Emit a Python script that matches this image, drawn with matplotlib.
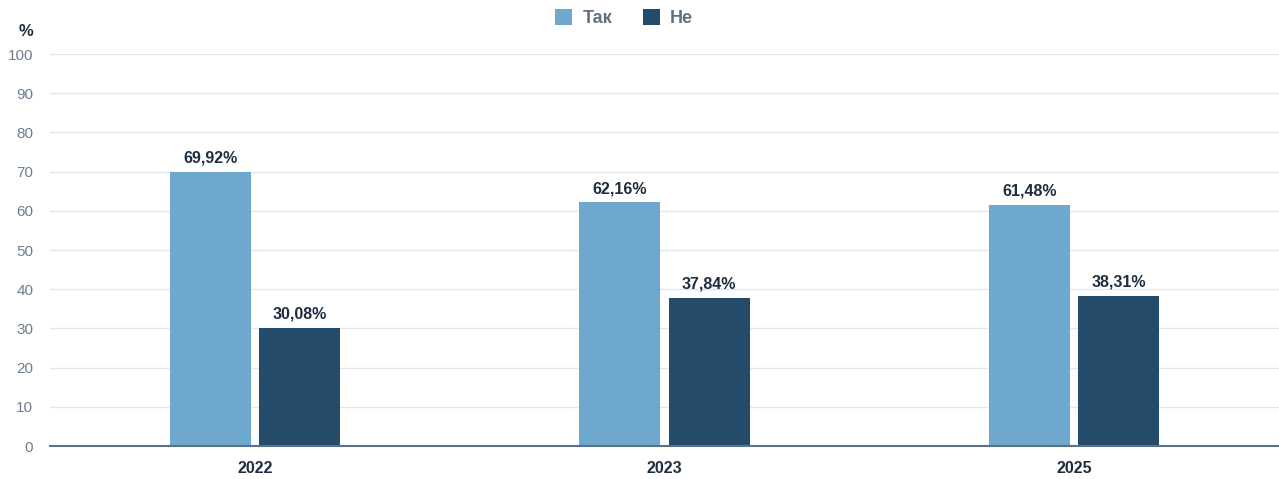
import numpy as np
import matplotlib
matplotlib.use("Agg")
import matplotlib.pyplot as plt
from matplotlib.patches import Patch

plt.rcParams['font.family'] = ['Liberation Sans', 'DejaVu Sans']

years = ['2022', '2023', '2025']
tak = [69.92, 62.16, 61.48]
ne = [30.08, 37.84, 38.31]
series_names = ['Так', 'Не']

c_tak = '#6fa8cf'
c_ne = '#244b6a'
grid_c = '#dfe6ed'
tick_c = '#6a7e91'
text_c = '#1d2e40'

fig = plt.figure(figsize=(12.79, 4.79), dpi=100)
ax = fig.add_axes([50 / 1279, 33 / 479, 1229 / 1279, 392 / 479])

x = np.arange(len(years))
w = 0.198
off = 0.109
b1 = ax.bar(x - off, tak, w, color=c_tak, zorder=3)
b2 = ax.bar(x + off, ne, w, color=c_ne, zorder=3)

for bars, vals in ((b1, tak), (b2, ne)):
    for r, v in zip(bars, vals):
        ax.text(r.get_x() + r.get_width() / 2, v + 1.6,
                f"{v:.2f}%".replace('.', ','), ha='center', va='bottom',
                fontsize=11.5, fontweight='bold', color=text_c)

ax.set_xlim(-0.5, 2.5)
ax.set_ylim(0, 100)
ax.set_yticks(range(0, 101, 10))
ax.set_xticks(x)
ax.set_xticklabels(years, fontsize=11.5, fontweight='bold', color=text_c)
ax.tick_params(axis='y', labelsize=11, labelcolor=tick_c, length=0, pad=12)
ax.tick_params(axis='x', length=0, pad=11)
ax.grid(axis='y', color=grid_c, linewidth=1, zorder=0)
for s in ['top', 'right', 'left']:
    ax.spines[s].set_visible(False)
ax.spines['bottom'].set_color('#5b7189')
ax.spines['bottom'].set_linewidth(1.5)
ax.spines['bottom'].set_zorder(4)

fig.text(26 / 1279, 1 - 31 / 479, '%', ha='center', va='center',
         fontsize=12, fontweight='bold', color=text_c)

handles = [Patch(facecolor=c_tak, label=series_names[0]),
           Patch(facecolor=c_ne, label=series_names[1])]
leg = fig.legend(handles=handles, loc='center', bbox_to_anchor=(624 / 1279, 1 - 18 / 479),
                 ncol=2, frameon=False, handlelength=0.95, handleheight=0.95,
                 handletextpad=0.55, columnspacing=1.7,
                 prop={'size': 13, 'weight': 'bold'})
for t in leg.get_texts():
    t.set_color('#5d7185')

fig.savefig('out.png', dpi=100)
